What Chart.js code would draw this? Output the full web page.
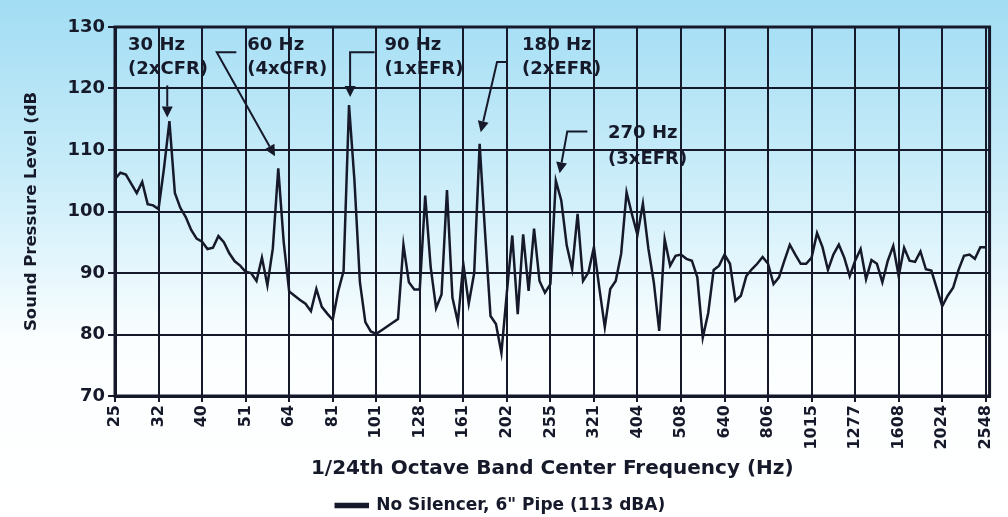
<!DOCTYPE html>
<html>
<head>
<meta charset="UTF-8" />
<title>Sound Pressure Level</title>
<script src="https://cdn.jsdelivr.net/npm/chart.js@4.4.1/dist/chart.umd.min.js"></script>
<style>
    body { margin: 0; background: white; }
    #wrap { width: 1008px; height: 517px; }
</style>
</head>
<body>
<div id="wrap"><canvas id="splChart" width="1008" height="517"></canvas></div>
<script>
    // 1/24th octave band centre frequencies, a label every 8 bands
    var xTickLabels = ['25', '32', '40', '51', '64', '81', '101', '128', '161', '202', '255',
        '321', '404', '508', '640', '806', '1015', '1277', '1608', '2024', '2548'];
    var bandsPerTick = 8;

    // dB per band (161 bands)
    var splValues = [
        105.3, 106.3, 106.0, 104.5, 103.0, 104.8, 101.2, 101.0, 100.4, 107.0,
        114.7, 103.0, 100.6, 99.1, 97.0, 95.6, 95.1, 93.9, 94.1, 96.0,
        95.0, 93.2, 91.9, 91.2, 90.2, 90.0, 88.7, 92.5, 88.0, 94.0,
        107.0, 95.0, 87.0, 86.3, 85.6, 85.0, 83.8, 87.4, 84.5, 83.4,
        82.4, 87.0, 90.3, 117.3, 105.0, 88.5, 82.0, 80.5, 80.1, 80.7,
        81.3, 81.9, 82.5, 94.6, 88.5, 87.3, 87.3, 102.6, 91.0, 84.3,
        86.5, 103.5, 86.0, 82.0, 91.5, 85.0, 90.0, 111.0, 96.5, 83.0,
        81.7, 77.0, 86.8, 96.1, 83.3, 96.3, 87.1, 97.2, 88.7, 86.8,
        88.2, 105.0, 101.8, 94.5, 90.6, 99.6, 88.7, 90.1, 94.2, 87.5,
        81.2, 87.4, 88.7, 93.1, 103.1, 99.5, 96.2, 101.3, 94.0, 88.5,
        80.6, 95.5, 91.2, 92.8, 93.0, 92.3, 92.0, 89.3, 79.5, 83.5,
        90.5, 91.2, 93.0, 91.5, 85.5, 86.3, 89.5, 90.6, 91.5, 92.6,
        91.5, 88.2, 89.3, 92.0, 94.6, 93.0, 91.5, 91.5, 92.5, 96.5,
        94.2, 90.5, 93.0, 94.6, 92.5, 89.5, 92.0, 93.9, 89.0, 92.1,
        91.5, 88.5, 92.0, 94.4, 89.5, 94.1, 92.0, 91.8, 93.5, 90.6,
        90.4, 87.5, 84.6, 86.3, 87.6, 90.5, 92.8, 93.0, 92.3, 94.2, 94.2
    ];

    var seriesName = 'No Silencer, 6" Pipe (113 dBA)';

    // callouts: text lines and arrow path, in (band index, dB) units
    var callouts = [
        { lines: ['30 Hz', '(2xCFR)'], at: [2.4, 127.1, 123.1], path: [[9.6, 120.5], [9.6, 115.3]] },
        { lines: ['60 Hz', '(4xCFR)'], at: [24.3, 127.1, 123.1], path: [[22.3, 125.9], [18.7, 125.9], [29.4, 109.0]] },
        { lines: ['90 Hz', '(1xEFR)'], at: [49.5, 127.1, 123.1], path: [[47.7, 125.9], [43.2, 125.9], [43.2, 118.6]] },
        { lines: ['180 Hz', '(2xEFR)'], at: [74.8, 127.1, 123.1], path: [[72.2, 124.3], [70.2, 124.3], [67.2, 112.9]] },
        { lines: ['270 Hz', '(3xEFR)'], at: [90.6, 112.7, 108.5], path: [[86.8, 113.0], [83.1, 113.0], [81.7, 106.2]] }
    ];

    var ink = '#15192a';
    var boldFont = function (size) { return { family: 'DejaVu Sans', weight: 'bold', size: size }; };

    var backdrop = {
        id: 'backdrop',
        beforeDraw: function (chart) {
            var ctx = chart.ctx;
            var g = ctx.createLinearGradient(0, 0, 0, chart.height);
            g.addColorStop(0, '#a2ddf4');
            g.addColorStop(0.35, '#cbedf9');
            g.addColorStop(0.66, '#fbfeff');
            g.addColorStop(1, '#ffffff');
            ctx.save();
            ctx.fillStyle = g;
            ctx.fillRect(0, 0, chart.width, chart.height);
            ctx.restore();
        },
        beforeDatasetsDraw: function (chart) {
            var a = chart.chartArea, ctx = chart.ctx;
            ctx.save();
            ctx.strokeStyle = ink;
            ctx.lineWidth = 3;
            ctx.strokeRect(a.left, a.top, a.right - a.left, a.bottom - a.top);
            ctx.restore();
        }
    };

    var calloutPlugin = {
        id: 'callouts',
        afterDatasetsDraw: function (chart) {
            var ctx = chart.ctx, xs = chart.scales.x, ys = chart.scales.y;
            ctx.save();
            ctx.fillStyle = ink;
            ctx.strokeStyle = ink;
            ctx.lineWidth = 2;
            ctx.font = 'bold 18px "DejaVu Sans"';
            ctx.textBaseline = 'middle';
            callouts.forEach(function (c) {
                var tx = xs.getPixelForValue(c.at[0]);
                ctx.fillText(c.lines[0], tx, ys.getPixelForValue(c.at[1]));
                ctx.fillText(c.lines[1], tx, ys.getPixelForValue(c.at[2]));
                var pts = c.path.map(function (p) { return [xs.getPixelForValue(p[0]), ys.getPixelForValue(p[1])]; });
                var n = pts.length;
                var tip = pts[n - 1], prev = pts[n - 2];
                var ang = Math.atan2(tip[1] - prev[1], tip[0] - prev[0]);
                var head = 11;
                var bx = tip[0] - head * Math.cos(ang), by = tip[1] - head * Math.sin(ang);
                ctx.beginPath();
                ctx.moveTo(pts[0][0], pts[0][1]);
                for (var k = 1; k < n - 1; k++) ctx.lineTo(pts[k][0], pts[k][1]);
                ctx.lineTo(bx, by);
                ctx.stroke();
                ctx.beginPath();
                ctx.moveTo(tip[0], tip[1]);
                ctx.lineTo(bx + 5.5 * Math.sin(ang), by - 5.5 * Math.cos(ang));
                ctx.lineTo(bx - 5.5 * Math.sin(ang), by + 5.5 * Math.cos(ang));
                ctx.closePath();
                ctx.fill();
            });
            ctx.restore();
        }
    };

    var chart = new Chart(document.getElementById('splChart'), {
        type: 'line',
        data: {
            datasets: [{
                label: seriesName,
                data: splValues.map(function (v, i) { return { x: i, y: v }; }),
                borderColor: ink,
                backgroundColor: ink,
                borderWidth: 2.5,
                pointRadius: 0,
                tension: 0
            }]
        },
        options: {
            responsive: false,
            animation: false,
            layout: { padding: { left: 0, top: 27, right: 7, bottom: -7 } },
            plugins: {
                legend: {
                    position: 'bottom',
                    labels: { color: ink, font: boldFont(17), boxWidth: 32, boxHeight: 3, padding: 0 }
                },
                tooltip: { enabled: false }
            },
            scales: {
                x: {
                    type: 'linear',
                    min: 0,
                    max: 160.7,
                    afterBuildTicks: function (scale) {
                        scale.ticks = xTickLabels.map(function (l, k) { return { value: k * bandsPerTick }; });
                    },
                    afterFit: function (scale) { scale.height = 101; },
                    ticks: {
                        autoSkip: false,
                        minRotation: 90,
                        maxRotation: 90,
                        padding: 3,
                        color: ink,
                        font: boldFont(16),
                        callback: function (v, i) { return xTickLabels[i]; }
                    },
                    grid: { color: ink, lineWidth: 2, tickLength: 6 },
                    border: { color: ink, width: 3 },
                    title: {
                        display: true,
                        text: '1/24th Octave Band Center Frequency (Hz)',
                        color: ink,
                        font: boldFont(20),
                        padding: { top: 0, bottom: 16 }
                    }
                },
                y: {
                    min: 70,
                    max: 130,
                    afterFit: function (scale) { scale.width = 115; },
                    ticks: { stepSize: 10, color: ink, font: boldFont(18), padding: 3 },
                    grid: { color: ink, lineWidth: 2, tickLength: 7 },
                    border: { color: ink, width: 3 },
                    title: {
                        display: true,
                        text: 'Sound Pressure Level (dB',
                        color: ink,
                        font: boldFont(16.5),
                        padding: { top: 22, bottom: 0 }
                    }
                }
            }
        },
        plugins: [backdrop, calloutPlugin]
    });
</script>
</body>
</html>
